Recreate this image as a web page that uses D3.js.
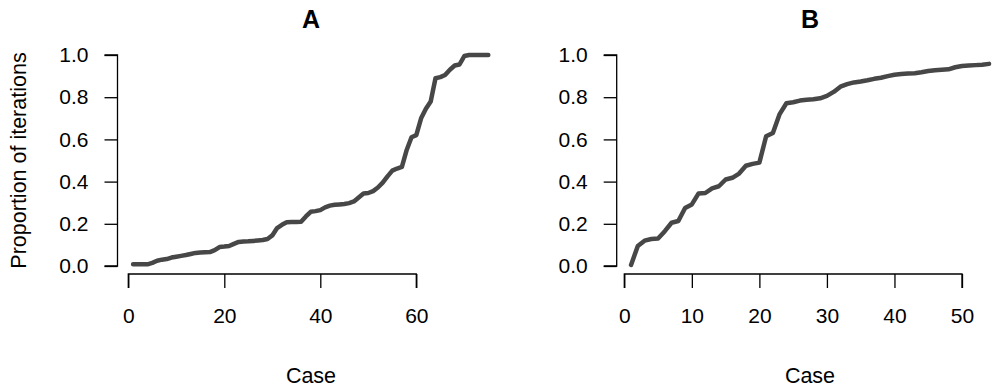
<!DOCTYPE html>
<html>
<head>
<meta charset="utf-8">
<script src="https://cdn.jsdelivr.net/npm/d3@7"></script>
<style>
  body { margin: 0; background: #fff; }
  svg { display: block; font-family: "Liberation Sans", Arial, sans-serif; }
  .axis path, .axis line { stroke: #000; stroke-width: 1.3; }
  .axis text { font-size: 21px; fill: #000; }
</style>
</head>
<body>
<svg id="chart" width="1000" height="392"></svg>
<script>
// proportion of iterations, one value per case
const casesA = d3.range(1, 76);
const valuesA = [
  0.008, 0.008, 0.008, 0.008, 0.015, 0.025, 0.030, 0.033, 0.040, 0.044,
  0.048, 0.052, 0.057, 0.062, 0.064, 0.065, 0.066, 0.075, 0.090, 0.092,
  0.095, 0.105, 0.114, 0.116, 0.117, 0.119, 0.121, 0.123, 0.128, 0.145,
  0.180, 0.195, 0.207, 0.208, 0.209, 0.210, 0.235, 0.257, 0.260, 0.265,
  0.278, 0.286, 0.290, 0.292, 0.294, 0.298, 0.306, 0.325, 0.344, 0.346,
  0.355, 0.372, 0.395, 0.425, 0.452, 0.462, 0.470, 0.550, 0.610, 0.620,
  0.700, 0.745, 0.780, 0.890, 0.895, 0.905, 0.930, 0.950, 0.955, 0.995,
  1.000, 1.000, 1.000, 1.000, 1.000
];

const casesB = d3.range(1, 55);
const valuesB = [
  0.005, 0.095, 0.120, 0.128, 0.130, 0.165, 0.205, 0.213, 0.275, 0.292,
  0.344, 0.346, 0.368, 0.378, 0.410, 0.418, 0.438, 0.475, 0.484, 0.490,
  0.615, 0.630, 0.720, 0.771, 0.776, 0.784, 0.788, 0.790, 0.795, 0.806,
  0.825, 0.850, 0.862, 0.870, 0.874, 0.880, 0.887, 0.892, 0.900, 0.906,
  0.910, 0.912, 0.914, 0.918, 0.924, 0.928, 0.930, 0.932, 0.942, 0.948,
  0.950, 0.952, 0.954, 0.958
];

const yTicks = [0, 0.2, 0.4, 0.6, 0.8, 1.0];
const xTicksA = [0, 20, 40, 60];
const xTicksB = [0, 10, 20, 30, 40, 50];

const svg = d3.select('#chart');
const plotTop = 55, plotBottom = 266;

const y = d3.scaleLinear().domain([0, 1]).range([plotBottom, plotTop]);

function panel(opts) {
  const x = d3.scaleLinear()
    .domain(opts.xDomain)
    .range(opts.xRange);
  const data = opts.cases.map(function(c, i) { return {x: c, y: opts.values[i]}; });
  const lastTick = opts.xTicks[opts.xTicks.length - 1];

  // x axis, line only between first and last tick
  const xAxis = svg.append('g')
    .attr('class', 'axis')
    .attr('transform', 'translate(0,274)')
    .call(d3.axisBottom(x).tickValues(opts.xTicks).tickSize(14).tickPadding(20));
  xAxis.select('.domain')
    .attr('d', 'M' + x(opts.xTicks[0]) + ',14V0H' + x(lastTick) + 'V14')
    .attr('fill', 'none');

  const yAxis = svg.append('g')
    .attr('class', 'axis')
    .attr('transform', 'translate(' + opts.yAxisX + ',0)')
    .call(d3.axisLeft(y).tickValues(yTicks).tickFormat(d3.format('.1f')).tickSize(13).tickPadding(16));
  yAxis.select('.domain')
    .attr('d', 'M-13,' + y(0) + 'H0V' + y(1) + 'H-13')
    .attr('fill', 'none');

  svg.append('path')
    .datum(data)
    .attr('fill', 'none')
    .attr('stroke', '#474747')
    .attr('stroke-width', 4.5)
    .attr('stroke-linejoin', 'round')
    .attr('stroke-linecap', 'round')
    .attr('d', d3.line()
      .x(function(d) { return x(d.x); })
      .y(function(d) { return y(d.y); }));

  svg.append('text')
    .attr('x', opts.center)
    .attr('y', 28)
    .attr('text-anchor', 'middle')
    .style('font-size', '25px')
    .style('font-weight', 'bold')
    .text(opts.title);

  svg.append('text')
    .attr('x', opts.center)
    .attr('y', 383)
    .attr('text-anchor', 'middle')
    .style('font-size', '21.5px')
    .text('Case');
}

panel({
  title: 'A',
  cases: casesA,
  values: valuesA,
  xDomain: [0, 60],
  xRange: [128.3, 416.3],
  xTicks: xTicksA,
  yAxisX: 117.5,
  center: 311
});

panel({
  title: 'B',
  cases: casesB,
  values: valuesB,
  xDomain: [0, 50],
  xRange: [624.3, 962],
  xTicks: xTicksB,
  yAxisX: 616.7,
  center: 810
});

svg.append('text')
  .attr('transform', 'translate(26,160.5) rotate(-90)')
  .attr('text-anchor', 'middle')
  .style('font-size', '21.5px')
  .text('Proportion of iterations');
</script>
</body>
</html>
